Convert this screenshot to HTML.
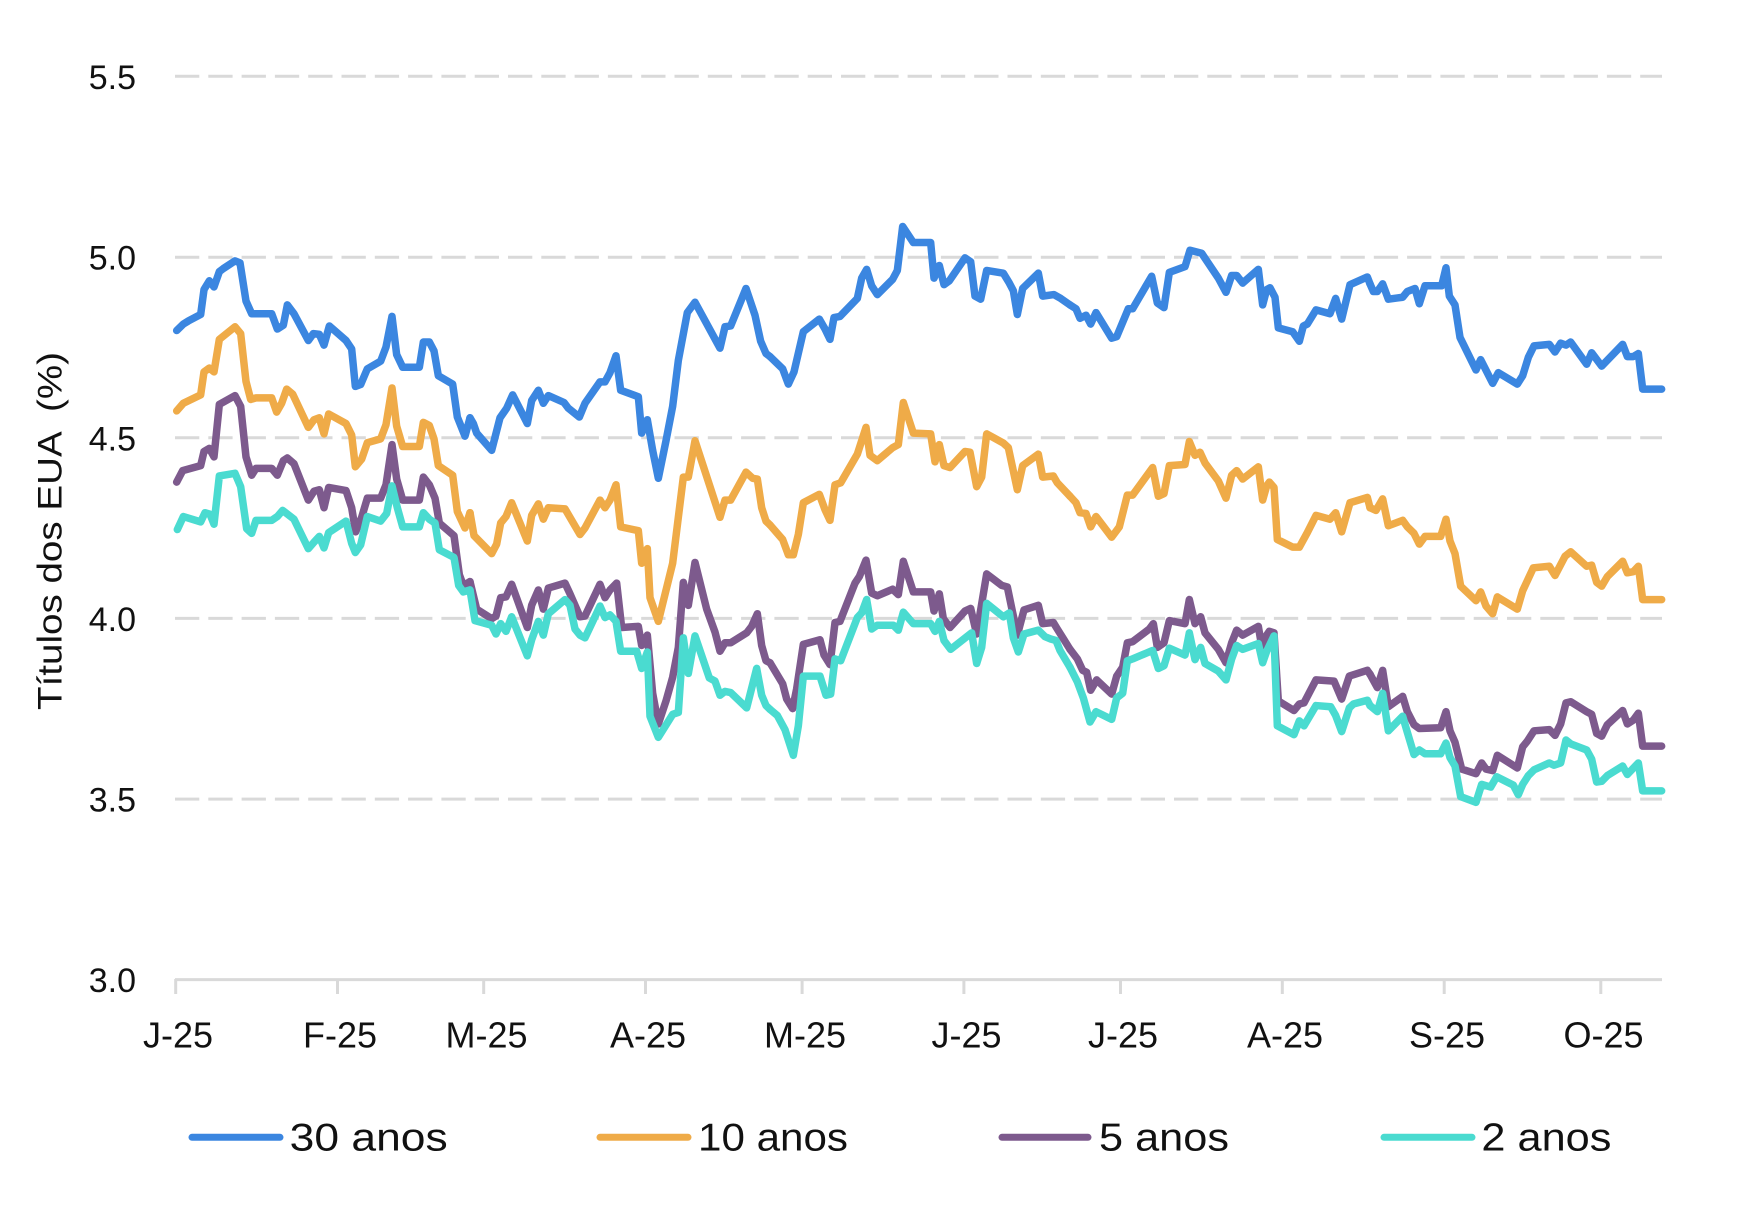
<!DOCTYPE html>
<html>
<head>
<meta charset="utf-8">
<style>
  html, body { margin: 0; padding: 0; background: #ffffff; }
  svg { display: block; }
  text { font-family: "Liberation Sans", "DejaVu Sans", sans-serif; fill: #111111; }
</style>
</head>
<body>
<svg width="1753" height="1229" viewBox="0 0 1753 1229" xmlns="http://www.w3.org/2000/svg">
  <rect x="0" y="0" width="1753" height="1229" fill="#ffffff"/>

  <!-- gridlines -->
  <g stroke="#d9d9d9" stroke-width="3" stroke-dasharray="24.3 9" fill="none">
    <line x1="175" y1="76.3" x2="1662" y2="76.3"/>
    <line x1="175" y1="257.2" x2="1662" y2="257.2"/>
    <line x1="175" y1="437.8" x2="1662" y2="437.8"/>
    <line x1="175" y1="618.4" x2="1662" y2="618.4"/>
    <line x1="175" y1="799.1" x2="1662" y2="799.1"/>
  </g>
  <!-- x axis -->
  <g stroke="#d9d9d9" stroke-width="3" fill="none">
    <line x1="175" y1="979.6" x2="1662" y2="979.6"/>
    <line x1="175.7" y1="979" x2="175.7" y2="994"/>
    <line x1="337.5" y1="979" x2="337.5" y2="994"/>
    <line x1="483.7" y1="979" x2="483.7" y2="994"/>
    <line x1="645.5" y1="979" x2="645.5" y2="994"/>
    <line x1="802.1" y1="979" x2="802.1" y2="994"/>
    <line x1="963.9" y1="979" x2="963.9" y2="994"/>
    <line x1="1120.5" y1="979" x2="1120.5" y2="994"/>
    <line x1="1282.3" y1="979" x2="1282.3" y2="994"/>
    <line x1="1444.2" y1="979" x2="1444.2" y2="994"/>
    <line x1="1600.8" y1="979" x2="1600.8" y2="994"/>
  </g>

  <!-- y tick labels -->
  <g font-size="34" text-anchor="end">
    <text x="136" y="89">5.5</text>
    <text x="136" y="269.7">5.0</text>
    <text x="136" y="450.3">4.5</text>
    <text x="136" y="630.9">4.0</text>
    <text x="136" y="811.6">3.5</text>
    <text x="136" y="992">3.0</text>
  </g>

  <!-- y axis title -->
  <text transform="translate(61.7,531) rotate(-90)" font-size="34" text-anchor="middle" textLength="358" lengthAdjust="spacingAndGlyphs" xml:space="preserve">Títulos dos EUA  (%)</text>

  <!-- x tick labels -->
  <g font-size="36" text-anchor="middle">
    <text x="178" y="1047.7">J-25</text>
    <text x="340" y="1047.7">F-25</text>
    <text x="486.5" y="1047.7">M-25</text>
    <text x="648" y="1047.7">A-25</text>
    <text x="805" y="1047.7">M-25</text>
    <text x="966.5" y="1047.7">J-25</text>
    <text x="1123" y="1047.7">J-25</text>
    <text x="1285" y="1047.7">A-25</text>
    <text x="1447" y="1047.7">S-25</text>
    <text x="1603.5" y="1047.7">O-25</text>
  </g>

  <!-- legend -->
  <g stroke-width="7" stroke-linecap="round" fill="none">
    <line x1="192" y1="1137.3" x2="280" y2="1137.3" stroke="#3b86e0"/>
    <line x1="600" y1="1137.3" x2="688" y2="1137.3" stroke="#efab48"/>
    <line x1="1002" y1="1137.3" x2="1088" y2="1137.3" stroke="#7d5a8d"/>
    <line x1="1384" y1="1137.3" x2="1472" y2="1137.3" stroke="#4adbd0"/>
  </g>
  <g font-size="39">
    <text x="289.7" y="1150.7" textLength="158" lengthAdjust="spacingAndGlyphs">30 anos</text>
    <text x="698" y="1150.7" textLength="150" lengthAdjust="spacingAndGlyphs">10 anos</text>
    <text x="1099" y="1150.7" textLength="130" lengthAdjust="spacingAndGlyphs">5 anos</text>
    <text x="1481.4" y="1150.7" textLength="130" lengthAdjust="spacingAndGlyphs">2 anos</text>
  </g>

  <!-- series: 30 anos (blue) -->
  <g fill="none" stroke="#3b86e0" stroke-width="7.5" stroke-linejoin="round" stroke-linecap="round">
    <g transform="translate(170,215) scale(0.333333,0.382653)">
      <polyline vector-effect="non-scaling-stroke" points="20,302 40,285 55,277 92,260 102,195 118,172 132,188 148,148 160,140 195,120 210,125 228,225 245,258 305,258 322,298 340,288 352,235 372,258 415,328 430,310 448,312 462,340 478,290 528,328 545,350 556,448 572,443 592,402 632,382 648,345 666,265 680,365 698,398 748,398 760,332 778,332 792,355 805,420 848,442 862,528 885,578 900,530"/>
    </g>
    <g transform="translate(470,215) scale(0.333333,0.382653)">
      <polyline vector-effect="non-scaling-stroke" points="0,530 10,545 20,570 65,615 90,530 110,505 128,470 172,545 185,485 205,458 220,492 235,472 282,490 295,505 328,528 345,492 390,436 405,436 420,412 438,368 452,458 505,475 515,570 532,535 548,615 565,688 588,590 608,500 625,380 652,255 675,228 750,348 765,292 782,290 828,192 855,262 872,330 888,362 900,370"/>
    </g>
    <g transform="translate(770,215) scale(0.333333,0.382653)">
      <polyline vector-effect="non-scaling-stroke" points="0,370 38,402 55,442 72,410 100,305 148,272 165,298 180,325 192,268 210,265 262,218 275,165 290,142 305,185 322,208 368,168 382,145 398,30 430,72 482,72 492,165 508,132 522,182 538,172 585,112 602,122 615,212 632,220 650,145 700,152 718,178 730,198 742,260 758,192 805,152 818,212 852,208 872,218 900,235"/>
    </g>
    <g transform="translate(1070,215) scale(0.333333,0.382653)">
      <polyline vector-effect="non-scaling-stroke" points="0,235 18,245 30,270 48,262 62,285 78,255 125,322 140,318 175,245 188,245 245,160 262,230 282,242 298,150 345,135 360,92 395,100 445,165 468,202 485,158 500,158 518,178 565,142 578,235 590,195 600,190 615,215 625,295 668,305 688,330 700,290 712,285 738,248 780,258 797,218 815,272 840,182 892,162 900,180"/>
    </g>
    <g transform="translate(1370,215) scale(0.333333,0.382653)">
      <polyline vector-effect="non-scaling-stroke" points="0,180 10,200 22,200 38,180 55,220 98,215 112,200 135,192 148,232 165,185 215,185 228,138 238,212 255,235 270,320 318,405 332,378 368,440 385,412 442,442 458,420 475,372 492,342 538,338 555,358 572,335 588,340 602,332 650,390 665,360 695,395 758,338 772,370 790,370 805,362 818,455 875,455"/>
    </g>
  </g>

  <!-- series: 10 anos (orange) -->
  <g fill="none" stroke="#efab48" stroke-width="7.5" stroke-linejoin="round" stroke-linecap="round">
    <g transform="translate(170,215) scale(0.333333,0.382653)">
      <polyline vector-effect="non-scaling-stroke" points="20,512 40,492 92,470 102,410 118,400 132,410 148,325 195,292 212,310 228,435 242,482 258,478 305,478 320,515 335,492 350,455 368,468 415,555 432,535 448,530 462,572 476,520 528,545 545,575 556,658 575,638 592,595 632,585 648,548 666,452 680,552 698,605 748,605 760,542 778,550 792,585 805,655 848,680 862,775 885,818 900,778"/>
    </g>
    <g transform="translate(470,215) scale(0.333333,0.382653)">
      <polyline vector-effect="non-scaling-stroke" points="0,778 12,838 65,885 80,860 92,805 108,788 125,752 172,852 185,785 205,755 220,795 235,765 285,768 330,835 345,818 390,745 405,765 420,745 438,705 452,815 505,825 515,910 532,872 540,1000 565,1062 608,910 625,790 640,685 655,685 675,590 750,790 765,745 782,745 828,672 848,688 862,690 875,765 888,800 900,810"/>
    </g>
    <g transform="translate(770,215) scale(0.333333,0.382653)">
      <polyline vector-effect="non-scaling-stroke" points="0,810 38,848 55,888 70,888 85,835 100,752 148,730 165,770 180,798 195,705 212,700 262,625 288,555 300,628 322,642 368,608 385,600 400,490 430,570 482,572 495,645 508,600 522,655 540,660 585,618 600,620 620,710 635,685 650,572 700,596 715,608 742,718 758,655 805,625 818,685 850,682 862,700 900,735"/>
    </g>
    <g transform="translate(1070,215) scale(0.333333,0.382653)">
      <polyline vector-effect="non-scaling-stroke" points="0,735 18,752 30,778 48,780 62,815 78,788 125,842 148,815 172,732 188,732 248,660 265,735 282,728 298,655 345,652 358,592 375,628 390,620 405,648 445,695 468,740 485,680 500,668 518,690 565,658 578,745 590,708 598,698 612,712 622,848 668,868 688,868 712,830 738,785 780,795 797,778 815,828 840,752 892,738 900,765"/>
    </g>
    <g transform="translate(1370,215) scale(0.333333,0.382653)">
      <polyline vector-effect="non-scaling-stroke" points="0,765 18,772 38,742 55,812 98,798 112,815 132,832 148,860 165,840 212,840 228,795 240,852 255,885 272,970 318,1008 332,985 348,1022 368,1042 382,998 442,1030 458,982 490,922 538,918 555,942 585,892 602,880 650,918 665,915 680,960 695,970 712,945 758,905 772,935 790,932 805,918 818,1005 875,1005"/>
    </g>
  </g>

  <!-- series: 5 anos (purple) -->
  <g fill="none" stroke="#7d5a8d" stroke-width="7.5" stroke-linejoin="round" stroke-linecap="round">
    <g transform="translate(170,215) scale(0.333333,0.382653)">
      <polyline vector-effect="non-scaling-stroke" points="20,698 38,668 92,655 102,618 118,610 132,632 148,495 195,472 212,500 228,632 245,680 258,662 305,662 322,680 340,642 352,635 372,650 415,745 432,722 448,718 462,765 476,712 528,720 545,765 557,828 575,790 592,740 632,740 648,705 666,600 680,690 698,745 748,745 760,685 778,705 795,740 808,805 852,838 868,940 880,968 900,958"/>
    </g>
    <g transform="translate(470,215) scale(0.333333,0.382653)">
      <polyline vector-effect="non-scaling-stroke" points="0,958 20,1030 65,1055 78,1048 92,1000 108,998 125,965 172,1078 185,1020 205,980 220,1030 235,975 285,962 300,990 330,1050 345,1048 390,965 405,1000 420,980 440,962 455,1078 505,1075 515,1125 532,1098 548,1250 565,1330 588,1270 608,1208 625,1130 640,960 655,1020 675,908 710,1030 735,1090 750,1140 765,1118 782,1118 830,1092 845,1075 862,1042 875,1125 888,1165 900,1170"/>
    </g>
    <g transform="translate(770,215) scale(0.333333,0.382653)">
      <polyline vector-effect="non-scaling-stroke" points="0,1170 38,1225 50,1265 68,1290 80,1238 100,1122 150,1110 162,1150 180,1175 195,1065 210,1062 255,962 268,945 288,902 305,988 322,995 368,978 385,992 400,905 430,985 482,985 492,1035 508,990 520,1055 540,1078 585,1035 602,1028 620,1095 650,938 695,968 712,972 742,1098 762,1032 805,1020 818,1068 850,1065 862,1082 900,1135"/>
    </g>
    <g transform="translate(1070,215) scale(0.333333,0.382653)">
      <polyline vector-effect="non-scaling-stroke" points="0,1135 22,1160 38,1190 50,1195 62,1242 80,1215 125,1252 140,1205 158,1182 172,1118 188,1115 238,1082 250,1068 262,1130 282,1118 298,1060 345,1068 358,1005 375,1068 392,1050 405,1092 445,1135 468,1170 485,1118 500,1085 518,1098 565,1075 578,1142 590,1098 598,1088 612,1092 625,1270 672,1295 688,1278 702,1275 738,1215 792,1218 815,1265 838,1205 892,1190 900,1200"/>
    </g>
    <g transform="translate(1370,215) scale(0.333333,0.382653)">
      <polyline vector-effect="non-scaling-stroke" points="0,1200 22,1235 38,1190 55,1285 98,1258 112,1298 132,1332 148,1342 212,1340 228,1298 240,1348 255,1378 275,1448 318,1460 335,1432 348,1448 368,1452 382,1412 442,1445 458,1390 472,1375 492,1348 538,1345 555,1360 572,1330 588,1275 602,1272 650,1298 665,1305 680,1355 695,1362 712,1332 758,1295 772,1330 790,1320 805,1302 818,1388 875,1388"/>
    </g>
  </g>

  <!-- series: 2 anos (teal) -->
  <g fill="none" stroke="#4adbd0" stroke-width="7.5" stroke-linejoin="round" stroke-linecap="round">
    <g transform="translate(170,215) scale(0.333333,0.382653)">
      <polyline vector-effect="non-scaling-stroke" points="22,822 40,788 92,802 105,778 120,782 132,808 148,682 195,675 212,710 230,820 245,832 258,798 305,798 322,788 338,772 372,795 415,872 432,855 448,840 462,870 476,830 528,800 545,858 556,882 572,862 592,788 632,800 650,780 666,708 682,765 698,815 748,815 760,778 778,795 795,805 808,875 852,895 866,968 880,985 900,980"/>
    </g>
    <g transform="translate(470,215) scale(0.333333,0.382653)">
      <polyline vector-effect="non-scaling-stroke" points="0,980 15,1060 65,1072 78,1095 92,1068 108,1088 125,1050 172,1152 185,1110 205,1062 220,1098 235,1042 285,1005 300,1020 315,1082 330,1098 345,1105 390,1022 405,1052 420,1045 438,1062 452,1140 500,1140 515,1185 532,1142 540,1310 565,1365 608,1305 625,1300 640,1105 655,1198 675,1100 718,1210 735,1218 750,1255 765,1245 782,1248 830,1288 860,1185 875,1255 888,1282 900,1292"/>
    </g>
    <g transform="translate(770,215) scale(0.333333,0.382653)">
      <polyline vector-effect="non-scaling-stroke" points="0,1292 22,1308 45,1345 70,1412 85,1335 100,1205 150,1205 168,1255 182,1252 195,1160 212,1165 262,1052 275,1040 290,1005 305,1082 322,1072 370,1072 385,1085 400,1038 430,1068 482,1068 495,1088 508,1062 522,1112 542,1135 605,1092 620,1172 635,1130 650,1015 700,1050 718,1040 730,1105 745,1142 762,1095 805,1085 825,1102 842,1108 858,1112 870,1138 900,1182"/>
    </g>
    <g transform="translate(1070,215) scale(0.333333,0.382653)">
      <polyline vector-effect="non-scaling-stroke" points="0,1182 22,1220 40,1262 60,1325 78,1298 125,1318 140,1262 158,1250 172,1165 188,1160 248,1138 265,1185 282,1178 298,1132 345,1150 358,1092 375,1162 392,1130 405,1172 445,1192 468,1215 485,1160 500,1125 518,1135 565,1120 578,1170 590,1140 612,1100 622,1335 672,1358 688,1322 702,1335 738,1282 782,1285 797,1308 815,1350 838,1288 850,1278 892,1268 900,1282"/>
    </g>
    <g transform="translate(1370,215) scale(0.333333,0.382653)">
      <polyline vector-effect="non-scaling-stroke" points="0,1282 22,1298 38,1250 55,1348 98,1310 112,1352 132,1410 148,1398 165,1408 212,1408 228,1380 240,1418 255,1440 272,1520 318,1535 335,1488 362,1495 380,1468 430,1490 445,1515 458,1488 475,1465 492,1450 538,1432 552,1438 572,1432 588,1372 602,1382 650,1398 665,1422 680,1482 695,1480 712,1465 758,1440 772,1462 805,1432 818,1505 875,1505"/>
    </g>
  </g>
</svg>
</body>
</html>
